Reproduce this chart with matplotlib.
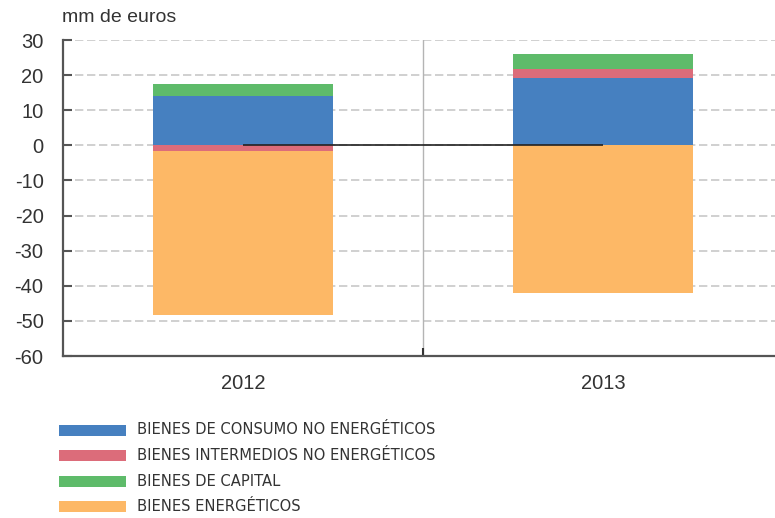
import matplotlib
matplotlib.use("Agg")
import matplotlib.pyplot as plt
from matplotlib.patches import Rectangle
from matplotlib import font_manager
import numpy as np

plt.rcParams["font.family"] = ["Liberation Sans", "DejaVu Sans"]
plt.rcParams["axes.unicode_minus"] = False

# Data (mm de euros)
years = ["2012", "2013"]
series_names = [
    "BIENES DE CONSUMO NO ENERGÉTICOS",
    "BIENES INTERMEDIOS NO ENERGÉTICOS",
    "BIENES DE CAPITAL",
    "BIENES ENERGÉTICOS",
]
consumo = [14.0, 19.1]
intermedios = [-1.7, 2.5]
capital = [3.4, 4.3]
energeticos = [-46.6, -42.1]
colors = ["#4680C0", "#DC6C7A", "#5EBB6A", "#FDB866"]

y_ticks = [-60, -50, -40, -30, -20, -10, 0, 10, 20, 30]
y_tick_labels = ["-60", "-50", "-40", "-30", "-20", "-10", "0", "10", "20", "30"]

W, H = 775, 518
fig = plt.figure(figsize=(W / 100, H / 100), dpi=100)
ax = fig.add_axes([63 / W, (H - 356) / H, (W - 63) / W, 316 / H])

x = np.arange(len(years))
pos_base = np.zeros(len(years))
neg_base = np.zeros(len(years))
for vals, col in zip([consumo, intermedios, capital, energeticos], colors):
    vals = np.array(vals, dtype=float)
    bottoms = np.where(vals >= 0, pos_base, neg_base)
    ax.bar(x, vals, width=0.5, bottom=bottoms, color=col, edgecolor="none", zorder=3)
    pos_base += np.clip(vals, 0, None)
    neg_base += np.clip(vals, None, 0)

# zero line between category centres
ax.plot([x[0], x[-1]], [0, 0], color="#222222", lw=1.2, zorder=4, solid_capstyle="butt")

# grid and separator
for yt in y_ticks[1:]:
    ax.axhline(yt, color="#c8c8c8", lw=1.2, ls=(0, (5, 2.2)), zorder=1)
ax.axvline(0.5, color="#b4b4b4", lw=1.0, zorder=1)

ax.set_ylim(-60, 30)
ax.set_xlim(-0.5, 1.478)
ax.set_yticks(y_ticks)
ax.set_yticklabels(y_tick_labels)
ax.set_xticks(x)
ax.set_xticklabels(years)
ax.set_xticks([0.5], minor=True)

for s in ["top", "right"]:
    ax.spines[s].set_visible(False)
for s in ["left", "bottom"]:
    ax.spines[s].set_color("#555555")
    ax.spines[s].set_linewidth(1.6)

ax.tick_params(axis="y", direction="in", length=6.5, width=1.5, color="#555555",
               labelsize=14.5, labelcolor="#333333", pad=14)
ax.tick_params(axis="x", which="major", length=0, labelsize=14.5, labelcolor="#333333", pad=13)
ax.tick_params(axis="x", which="minor", direction="in", length=6, width=1.5, color="#333333")

fig.text(62 / W, 1 - 18 / H, "mm de euros", fontsize=14, color="#333333",
         ha="left", va="center")

# legend
legend_font = font_manager.FontProperties(family="DejaVu Sans", stretch="condensed", size=11.8)
row_y = [430.0, 455.5, 481.0, 506.5]
for name, col, yy in zip(series_names, colors, row_y):
    fig.add_artist(Rectangle((59.5 / W, 1 - (yy + 5.5) / H), 67 / W, 11 / H,
                             transform=fig.transFigure, facecolor=col, edgecolor="none"))
    fig.text(137 / W, 1 - yy / H, name, fontproperties=legend_font, color="#333333",
             ha="left", va="center")

fig.savefig("out.png", dpi=100)
